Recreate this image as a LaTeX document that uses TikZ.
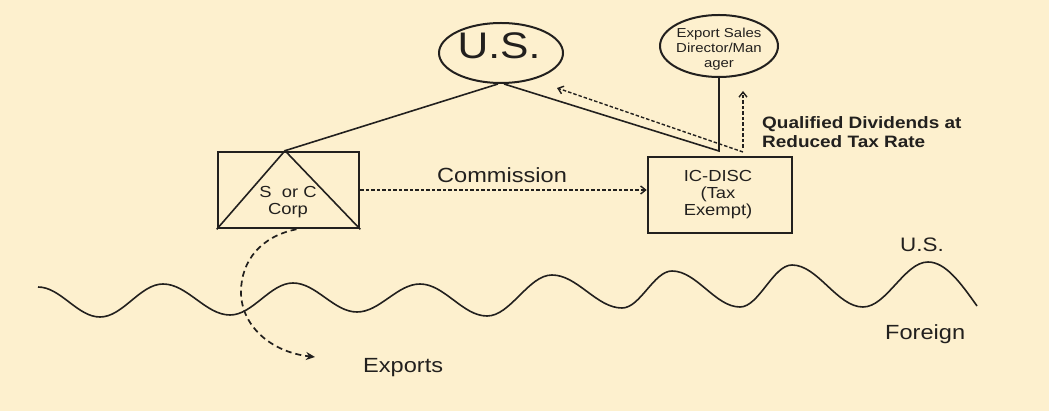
\documentclass[tikz,border=0pt]{standalone}
\usepackage{fontspec}
\newfontfamily\diagfont[FakeStretch=1.15]{Liberation Sans}
\usetikzlibrary{shapes.geometric,arrows.meta}
\definecolor{paper}{RGB}{253,240,206}
\definecolor{ink}{RGB}{34,32,30}
\begin{document}
\begin{tikzpicture}[x=1pt,y=-1pt,
  oval/.style={ellipse, draw=ink, line width=2pt, inner sep=0pt},
  boxn/.style={rectangle, draw=ink, line width=2.6pt, inner sep=0pt},
  link/.style={draw=ink, line width=1.6pt},
  flow/.style={draw=ink, line width=1.4pt, dash pattern=on 3.5pt off 2pt,
               -{Straight Barb[length=5pt,width=8pt]}},
  export/.style={draw=ink, line width=1.7pt, dash pattern=on 6pt off 4pt,
               -{Stealth[length=9pt,width=8pt]}},
  wave/.style={draw=ink, line width=1.6pt},
  txt/.style={text=ink, inner sep=0pt, font=\diagfont\fontsize{#1}{#1}\selectfont},
  mtxt/.style 2 args={text=ink, inner sep=0pt, align=center,
               font=\diagfont\fontsize{#1}{#2}\selectfont},
]
% page
\path[fill=paper] (0,0) rectangle (1049,411);

% ovals
\node[oval, minimum width=124pt, minimum height=60pt] (us) at (501,53) {};
\node[txt=37, anchor=base] (ustxt) at (499,58.5) {U.S.};
\node[oval, minimum width=118pt, minimum height=62pt] (esd) at (719,46) {};
\node[mtxt={13}{15}] (esdtxt) at (719,49.5) {Export Sales\\Director/Man\\ager};

% S or C corporation box with inner triangle
\node[boxn, minimum width=141pt, minimum height=76pt] (corp) at (288.5,190) {};
\coordinate (apex) at ([xshift=-3.5pt]corp.north);
\draw[link] (corp.south west) -- (apex) -- (corp.south east);
\node[mtxt={16}{17}] (corptxt) at (288,202.5) {S\ \ or C\\Corp};

% IC-DISC box
\node[boxn, minimum width=144pt, minimum height=76pt] (disc) at (720,195) {};
\node[mtxt={16}{17}] (disctxt) at (718,194.5) {IC-DISC\\(Tax\\Exempt)};

% ownership lines
\coordinate (jn) at (719,151);
\draw[link] ([xshift=-3pt]us.south) -- (apex);
\draw[link] ([xshift=3pt]us.south) -- (jn) -- (esd.south);

% dividend flows
\coordinate (dvA) at (743,152);
\coordinate (dvB) at (743,148);
\coordinate (tipus) at (557,88);
\coordinate (tipesd) at (743,91);
\draw[flow] (dvA) -- (tipus);
\draw[flow] (dvB) -- (tipesd);
\node[txt=16.5, font=\diagfont\bfseries\fontsize{16.5}{19}\selectfont,
      align=left, anchor=north west] (qdiv) at (762,116)
      {Qualified Dividends at\\Reduced Tax Rate};

% commission
\draw[flow] (corp.east) -- (corp.east -| disc.west);
\node[txt=20.5, anchor=base west] (comm) at (437,183) {Commission};

% border between U.S. and foreign
\draw[wave] (38,287) cos (69,302) sin (100,317)
  cos (131.5,300.5) sin (163,284)
  cos (196.5,299.5) sin (230,315)
  cos (261.5,299) sin (293,283)
  cos (325,297.5) sin (357,312)
  cos (388.5,298) sin (420,284)
  cos (453.5,300) sin (487,316)
  cos (519.5,295.5) sin (552,275)
  cos (587,291.5) sin (622,308)
  cos (647,289.5) sin (672,271)
  cos (706,289) sin (740,307)
  cos (766,286) sin (792,265)
  cos (827.5,286) sin (863,307)
  cos (895.5,284.5) sin (928,262)
  cos (977,306);
\node[txt=19.5, anchor=base west] (lus) at (900,252) {U.S.};
\node[txt=20.5, anchor=base west] (lfor) at (885,340) {Foreign};

% exports
\coordinate (exptip) at (315,357);
\draw[export] ([xshift=8pt]corp.south) .. controls (262,236) and (241,260) .. (241,292)
  .. controls (241,325) and (270,352) .. (exptip);
\node[txt=20.5, anchor=base west] (lexp) at (363,373) {Exports};
\end{tikzpicture}
\end{document}
